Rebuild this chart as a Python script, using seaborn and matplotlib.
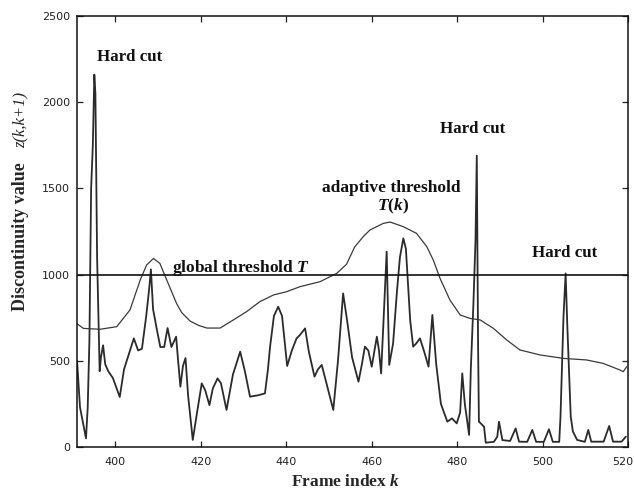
import matplotlib
matplotlib.use("Agg")
import matplotlib.pyplot as plt
import matplotlib.transforms as mtransforms
import pandas as pd
import seaborn as sns

# ---- data ----
sig_frame = [391.0, 391.7, 393.1, 393.5, 393.9, 394.3, 394.7, 395.05, 395.3, 395.7,
             396.3, 396.6, 397.1, 397.6, 398.3, 399.4, 401.0, 402.0, 402.9, 404.3,
             405.3, 406.2, 407.2, 407.9, 408.3, 408.8, 409.7, 410.5, 411.4, 412.2,
             413.1, 414.2, 414.6, 415.2, 415.8, 416.4, 417.0, 418.1, 419.1, 420.2,
             421.0, 422.0, 422.8, 423.9, 424.7, 426.0, 427.5, 429.2, 430.3, 431.5,
             433.4, 435.0, 435.7, 436.2, 437.1, 438.1, 439.0, 440.2, 441.3, 442.4,
             443.2, 444.4, 445.3, 446.6, 447.4, 448.3, 449.3, 451.0, 452.1, 453.3,
             454.2, 455.4, 456.9, 457.7, 458.4, 459.2, 460.0, 461.2, 461.7, 462.2,
             462.9, 463.5, 464.1, 465.0, 465.9, 466.6, 467.4, 468.0, 469.0, 469.7,
             470.4, 471.3, 472.2, 473.3, 474.2, 475.1, 476.2, 477.7, 478.8, 479.9,
             480.7, 481.2, 481.8, 482.8, 483.2, 483.8, 484.3, 484.6, 484.9, 485.1,
             486.3, 486.7, 488.6, 489.4, 489.8, 490.6, 492.4, 493.7, 494.5, 496.4,
             497.6, 498.5, 500.3, 501.5, 502.4, 503.9, 504.2, 504.9, 505.4, 505.8,
             506.6, 507.1, 508.1, 509.9, 510.7, 511.4, 514.3, 515.6, 516.5, 518.5,
             519.5]
sig_value = [500, 230, 50, 230, 620, 1500, 1750, 2160, 2050, 1100,
             440, 520, 590, 480, 440, 400, 290, 450, 520, 630,
             560, 570, 760, 920, 1030, 800, 680, 580, 580, 690,
             580, 640, 520, 350, 470, 516, 300, 41, 200, 369,
             330, 243, 340, 398, 370, 215, 420, 553, 440, 292,
             300, 311, 450, 582, 760, 814, 760, 470, 560, 630,
             650, 688, 550, 408, 450, 476, 380, 215, 500, 891,
             740, 520, 379, 480, 582, 560, 466, 640, 560, 427,
             800, 1133, 476, 600, 900, 1100, 1210, 1150, 737, 582,
             600, 630, 560, 466, 766, 480, 250, 147, 166, 137,
             200, 427, 250, 70, 450, 824, 1200, 1690, 600, 147,
             118, 25, 30, 60, 147, 40, 35, 108, 31, 30,
             99, 30, 30, 103, 30, 30, 176, 756, 1007, 700,
             176, 90, 41, 30, 99, 31, 31, 122, 31, 31,
             60]

thr_frame = [391.0, 392.5, 396.4, 400.3, 403.4, 405.8, 407.3, 408.9, 410.4, 412.0,
             414.3, 415.5, 417.5, 419.5, 421.4, 424.5, 427.6, 430.7, 433.8, 437.0,
             440.1, 443.2, 447.9, 451.8, 454.1, 456.0, 458.0, 459.6, 462.7, 464.3,
             467.4, 470.5, 472.9, 474.4, 476.0, 478.3, 480.7, 483.0, 485.4, 488.5,
             491.6, 494.7, 499.4, 504.9, 510.3, 514.2, 518.1, 518.9, 519.7]
thr_value = [715, 688, 683, 698, 795, 969, 1056, 1094, 1065, 969,
             833, 780, 730, 705, 690, 690, 737, 785, 843, 882,
             901, 930, 959, 1007, 1060, 1160, 1220, 1259, 1297, 1305,
             1278, 1239, 1162, 1085, 978, 853, 766, 746, 737, 688,
             621, 563, 534, 514, 505, 485, 447, 437, 466]

global_threshold = 1000
x_ticks = [400, 420, 440, 460, 480, 500, 520]
y_ticks = [0, 500, 1000, 1500, 2000, 2500]

sig_df = pd.DataFrame({"frame": sig_frame, "value": sig_value})
thr_df = pd.DataFrame({"frame": thr_frame, "value": thr_value})

sns.set_theme(style="ticks")
plt.rcParams['font.family'] = ['DejaVu Sans']
plt.rcParams['mathtext.fontset'] = 'custom'
plt.rcParams['mathtext.it'] = 'Liberation Serif:italic:bold'
plt.rcParams['mathtext.rm'] = 'Liberation Serif:bold'

fig = plt.figure(figsize=(6.34, 4.91), dpi=100)
fig.patch.set_facecolor('white')
ax = fig.add_axes([0.1215, 0.0896, 0.869, 0.8778])
ax.set_facecolor('white')

sns.lineplot(data=sig_df, x="frame", y="value", ax=ax, color='#2b2b2b',
             linewidth=1.3, sort=False, estimator=None)
sns.lineplot(data=thr_df, x="frame", y="value", ax=ax, color='#3a3a3a',
             linewidth=0.9, sort=False, estimator=None)
ax.axhline(global_threshold, color='#111111', linewidth=1.2)

ax.set_xlim(391, 520)
ax.set_ylim(0, 2500)
ax.set_xticks(x_ticks)
ax.set_yticks(y_ticks)
ax.set_xticklabels([str(t) for t in x_ticks])
ax.set_yticklabels([str(t) for t in y_ticks])
ax.tick_params(axis='both', direction='in', top=True, right=True, length=4,
               width=0.9, labelsize=8, colors='#222222')
ax.tick_params(axis='x', pad=7)
ax.tick_params(axis='y', pad=5)
for s in ax.spines.values():
    s.set_visible(True)
    s.set_color('#111111')
    s.set_linewidth(1.1)

# keep the last x tick label inside the figure
last = ax.get_xticklabels()[-1]
last.set_horizontalalignment('right')
last.set_transform(last.get_transform() +
                   mtransforms.ScaledTranslation(5 / 100, 0, fig.dpi_scale_trans))

ax.set_xlabel("")
ax.set_ylabel("")

serif = ['Liberation Serif', 'DejaVu Serif']
ax.text(0.4864, -0.081, r"Frame index $k$", transform=ax.transAxes,
        ha='center', va='center', fontsize=12.5, fontweight='bold', family=serif)
ax.text(-0.103, 0.487, "Discontinuity value", transform=ax.transAxes,
        rotation=90, ha='center', va='center', fontsize=13, fontweight='bold', family=serif)
ax.text(-0.103, 0.759, "z(k,k+1)", transform=ax.transAxes,
        rotation=90, ha='center', va='center', fontsize=12, style='italic',
        fontweight='normal', family=serif)

ann = dict(ha='center', va='baseline', fontsize=12.5, fontweight='bold', family=serif,
           color='#111111')
hc = dict(ann, fontsize=12.2)
ax.text(403.4, 2240, "Hard cut", **hc)
ax.text(483.6, 1819, "Hard cut", **hc)
ax.text(505.1, 1100, "Hard cut", **hc)
ax.text(464.6, 1481, "adaptive threshold", **ann)
ax.text(465.0, 1371, r"$T(k)$", **ann)
ax.text(429.3, 1015, r"global threshold $T$", **ann)

fig.savefig("out.png", dpi=100, facecolor='white')
